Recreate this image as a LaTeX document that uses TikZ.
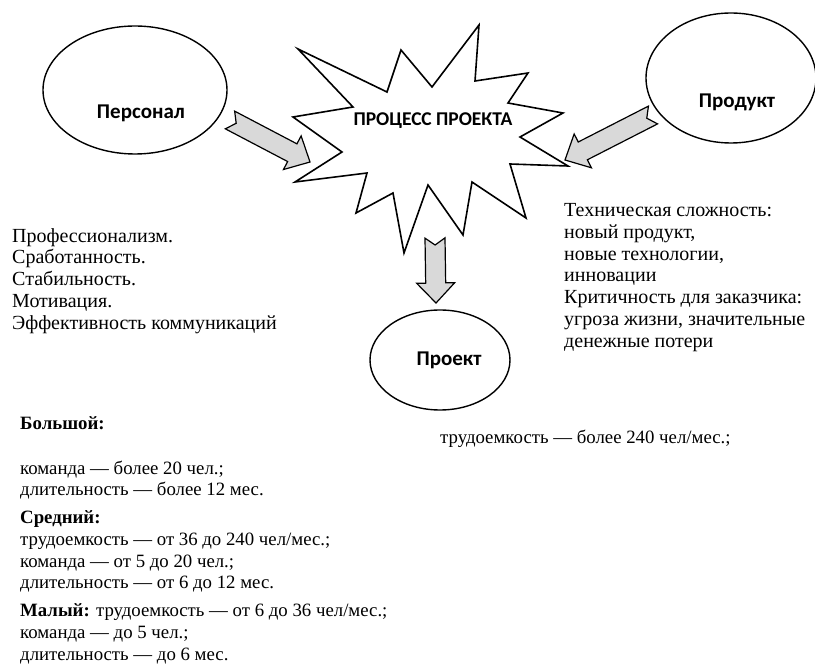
\documentclass[tikz,border=0pt]{standalone}
\usepackage{fontspec}
\setmainfont{Liberation Serif}
\newfontfamily\labelfont{Carlito}
\usetikzlibrary{shapes.geometric,calc,positioning}
\tikzset{
    outline/.style={black, line width=1.4pt, line join=miter},
    bubble/.style={ellipse, draw, outline, inner sep=0pt},
    bubble label/.style={font=\labelfont\bfseries\fontsize{21}{24}\selectfont},
    burst label/.style={font=\labelfont\bfseries\fontsize{19.5}{22}\selectfont},
    fat arrow/.style={draw, outline, line width=1.2pt, fill=black!15},
    factor text/.style={align=left, anchor=north west, inner sep=0pt,
        font=\fontsize{20}{21.9}\selectfont},
    size text/.style={align=left, anchor=north west, inner sep=0pt,
        font=\fontsize{18.8}{21.7}\selectfont},
}
% block arrow from #1 (notched tail) to #2 (tip)
\newcommand{\fatarrow}[2]{%
    \coordinate (fa head) at ($(#2)!20pt!(#1)$);
    \coordinate (fa notch) at ($(#1)!7pt!(#2)$);
    \draw[fat arrow] ($(#1)!10pt!90:(#2)$) -- ($(fa head)!10pt!90:(#2)$)
        -- ($(fa head)!19pt!90:(#2)$) -- (#2) -- ($(fa head)!19pt!-90:(#2)$)
        -- ($(fa head)!10pt!-90:(#2)$) -- ($(#1)!10pt!-90:(#2)$) -- (fa notch) -- cycle;
}

\begin{document}
\begin{tikzpicture}[x=1pt, y=-1pt]
    \useasboundingbox (0,0) rectangle (815,668);

    \node[bubble, minimum width=184, minimum height=128] (staff) at (135,90) {};
    \node[bubble, minimum width=170, minimum height=130] (product) at (731,78) {};
    \node[bubble, minimum width=140, minimum height=100] (project) at (440,360) {};
    \node[bubble label] (staff label) at ($(staff)+(6,23)$) {Персонал};
    \node[bubble label] (product label) at ($(product)+(6,24)$) {Продукт};
    \node[bubble label] (project label) at ($(project)+(9,0)$) {Проект};

    \draw[outline, line width=1.6pt] (298,49) -- (387,92) -- (401,50) -- (432,87)
        -- (479,25) -- (475,81) -- (528,73) -- (508,103) -- (563,113) -- (520,137)
        -- (568,166) -- (510,164) -- (526,218) -- (472,182) -- (463,235) -- (428,185)
        -- (404,253) -- (393,193) -- (356,213) -- (367,173) -- (295,182) -- (342,152)
        -- (293,117) -- (353,107) -- cycle;
    \node[burst label] (process) at (433,121) {ПРОЦЕСС ПРОЕКТА};

    \coordinate (staff out) at (230,120);
    \coordinate (process in W) at (310,162);
    \coordinate (product out) at (653,115);
    \coordinate (process in E) at (565,160);
    \coordinate (process out) at (435,238);
    \coordinate (project in) at (436,303);

    \fatarrow{staff out}{process in W}
    \fatarrow{product out}{process in E}
    \fatarrow{process out}{project in}

    \node[factor text] (staff factors) at (12,228) {Профессионализм.\\
        Сработанность.\\ Стабильность.\\ Мотивация.\\ Эффективность коммуникаций};
    \node[factor text] (product factors) at (564,203) {Техническая сложность:\\
        новый продукт,\\ новые технологии,\\ инновации\\ Критичность для заказчика:\\
        угроза жизни, значительные\\ денежные потери};

    \node[size text] (large effort) at (440,430) {трудоемкость — более 240 чел/мес.;};
    \node[size text] (sizes) at (20,416) {\textbf{Большой:}\\[23.3pt]
        команда — более 20 чел.;\\ длительность — более 12 мес.\\[6.3pt]
        \textbf{Средний:}\\ трудоемкость — от 36 до 240 чел/мес.;\\
        команда — от 5 до 20 чел.;\\ длительность — от 6 до 12 мес.\\[6.3pt]
        \textbf{Малый:} трудоемкость — от 6 до 36 чел/мес.;\\
        команда — до 5 чел.;\\ длительность — до 6 мес.};
\end{tikzpicture}
\end{document}
